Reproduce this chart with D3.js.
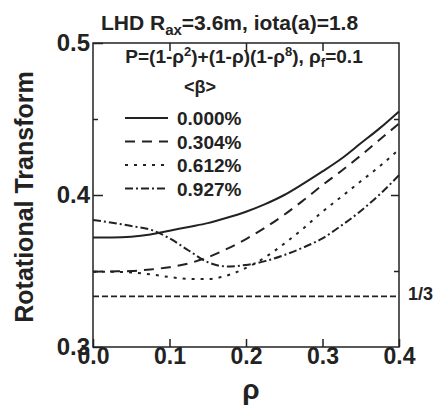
<!DOCTYPE html>
<html>
<head>
<meta charset="utf-8">
<script src="https://cdn.jsdelivr.net/npm/d3@7"></script>
<style>
  body { margin: 0; background: #fff; }
  text { font-family: "Liberation Sans", Arial, sans-serif; font-weight: bold; fill: #222; }
</style>
</head>
<body>
<div id="grafiek"></div>
<script>
// rho grid and the rotational transform for each <beta>
const rho = [0, 0.025, 0.05, 0.075, 0.1, 0.125, 0.15, 0.175, 0.2, 0.225, 0.25, 0.275, 0.3, 0.325, 0.35, 0.375, 0.4];
const iota000 = [0.372, 0.372, 0.3725, 0.374, 0.3765, 0.379, 0.3815, 0.385, 0.389, 0.394, 0.400, 0.4075, 0.4155, 0.424, 0.434, 0.444, 0.455];
const iota304 = [0.3495, 0.3497, 0.350, 0.351, 0.3525, 0.355, 0.359, 0.3645, 0.371, 0.3785, 0.387, 0.3965, 0.4065, 0.416, 0.426, 0.4365, 0.447];
const iota612 = [0.3495, 0.3495, 0.349, 0.3478, 0.346, 0.3448, 0.3447, 0.347, 0.352, 0.359, 0.368, 0.378, 0.389, 0.399, 0.409, 0.419, 0.430];
const iota927 = [0.3835, 0.3818, 0.3796, 0.3772, 0.3715, 0.3635, 0.3558, 0.353, 0.354, 0.3565, 0.3605, 0.3655, 0.3715, 0.380, 0.3895, 0.4005, 0.413];
const betaLabels = ["0.000%", "0.304%", "0.612%", "0.927%"];
const dashes = [null, "10,7", "3,6", "8,3,2,3"];
const thirdLevel = 1 / 3;
const xTicks = [0, 0.1, 0.2, 0.3, 0.4];
const yTicks = [0.3, 0.4, 0.5];
const yMinor = [0.35, 0.45];

const series = [iota000, iota304, iota612, iota927];

// afmetingen
const margin = { top: 43, right: 34, bottom: 61, left: 93 },
  width = 433 - margin.left - margin.right,
  height = 408 - margin.top - margin.bottom;

const svgRoot = d3.select('#grafiek')
  .append('svg')
  .attr('width', 433)
  .attr('height', 408);

const svg = svgRoot.append('g')
  .attr('transform', `translate(${margin.left}, ${margin.top})`);

const x = d3.scaleLinear().domain([0, 0.4]).range([0, width]);
const y = d3.scaleLinear().domain([0.3, 0.5]).range([height, 0]);

// bottom axis with labels, ticks pointing inward
const xAxis = svg.append("g")
  .attr("transform", `translate(0, ${height})`)
  .call(d3.axisBottom(x).tickValues(xTicks).tickSizeInner(-8).tickSizeOuter(0).tickPadding(1).tickFormat(d3.format(".1f")));
xAxis.select(".domain").remove();
xAxis.selectAll("text").style("font-size", "23px").attr("fill", "#222");

// top axis, ticks only
const xTop = svg.append("g")
  .call(d3.axisTop(x).tickValues([0.1, 0.2, 0.3]).tickSizeInner(-8).tickSizeOuter(0).tickFormat(""));
xTop.select(".domain").remove();

// left axis
const yAxis = svg.append("g")
  .call(d3.axisLeft(y).tickValues(yTicks).tickSizeInner(-10).tickSizeOuter(0).tickPadding(3).tickFormat(d3.format(".1f")));
yAxis.select(".domain").remove();
yAxis.selectAll("text").style("font-size", "24px").attr("fill", "#222");

const yMinorAxis = svg.append("g")
  .call(d3.axisLeft(y).tickValues(yMinor).tickSizeInner(-5).tickSizeOuter(0).tickFormat(""));
yMinorAxis.select(".domain").remove();

// right axis
const yRight = svg.append("g")
  .attr("transform", `translate(${width}, 0)`)
  .call(d3.axisRight(y).tickValues([0.4]).tickSizeInner(-8).tickSizeOuter(0).tickFormat(""));
yRight.select(".domain").remove();
const yRightMinor = svg.append("g")
  .attr("transform", `translate(${width}, 0)`)
  .call(d3.axisRight(y).tickValues(yMinor).tickSizeInner(-5).tickSizeOuter(0).tickFormat(""));
yRightMinor.select(".domain").remove();

svg.selectAll(".tick line").attr("stroke", "#222").attr("stroke-width", 1.5);

// frame
svg.append("rect")
  .attr("width", width)
  .attr("height", height)
  .attr("fill", "none")
  .attr("stroke", "#222")
  .attr("stroke-width", 1.5);

// 1/3 reference line
svg.append("line")
  .attr("x1", x(0)).attr("x2", x(0.4))
  .attr("y1", y(thirdLevel)).attr("y2", y(thirdLevel))
  .attr("stroke", "#222")
  .attr("stroke-width", 1.8)
  .attr("stroke-dasharray", "6,3");

svg.append("text")
  .attr("x", width + 9)
  .attr("y", y(thirdLevel) + 4)
  .style("font-size", "18px")
  .text("1/3");

// curves
const line = d3.line()
  .x((d, i) => x(rho[i]))
  .y(d => y(d))
  .curve(d3.curveMonotoneX);

svg.append("g")
  .selectAll("path")
  .data(series)
  .enter()
  .append("path")
    .attr("d", d => line(d))
    .attr("fill", "none")
    .attr("stroke", "#222")
    .attr("stroke-width", 2)
    .attr("stroke-dasharray", (d, i) => dashes[i]);

// formula inside the frame
const formula = svgRoot.append("text")
  .attr("x", 244)
  .attr("y", 63)
  .attr("text-anchor", "middle")
  .style("font-size", "19px");
formula.append("tspan").text("P=(1-ρ");
formula.append("tspan").attr("dy", -7).style("font-size", "13px").text("2");
formula.append("tspan").attr("dy", 7).text(")+(1-ρ)(1-ρ");
formula.append("tspan").attr("dy", -7).style("font-size", "13px").text("8");
formula.append("tspan").attr("dy", 7).text("), ρ");
formula.append("tspan").attr("dy", 4).style("font-size", "13px").text("f");
formula.append("tspan").attr("dy", -4).text("=0.1");

// title
const title = svgRoot.append("text")
  .attr("x", 101)
  .attr("y", 30)
  .style("font-size", "21px");
title.append("tspan").text("LHD R");
title.append("tspan").attr("dy", 5).style("font-size", "15px").text("ax");
title.append("tspan").attr("dy", -5).text("=3.6m, iota(a)=1.8");

// legend
svgRoot.append("text")
  .attr("x", 200)
  .attr("y", 93)
  .attr("text-anchor", "middle")
  .style("font-size", "18px")
  .text("<β>");

const legend = svgRoot.append("g")
  .selectAll("g")
  .data(betaLabels)
  .enter()
  .append("g")
    .attr("transform", (d, i) => `translate(0, ${118 + i * 23.5})`);

legend.append("line")
  .attr("x1", 125).attr("x2", 168)
  .attr("stroke", "#222")
  .attr("stroke-width", 2)
  .attr("stroke-dasharray", (d, i) => dashes[i]);

legend.append("text")
  .attr("x", 177)
  .attr("y", 7)
  .style("font-size", "19px")
  .text(d => d);

// axis titles
svgRoot.append("text")
  .attr("transform", "translate(33, 197) rotate(-90)")
  .attr("text-anchor", "middle")
  .style("font-size", "25px")
  .text("Rotational Transform");

svgRoot.append("text")
  .attr("x", 251)
  .attr("y", 399)
  .attr("text-anchor", "middle")
  .style("font-size", "28px")
  .text("ρ");
</script>
</body>
</html>
